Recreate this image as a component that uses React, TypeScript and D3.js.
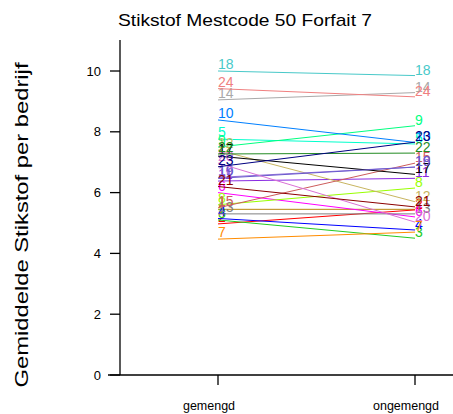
import React from "react";
import * as d3 from "d3";

const categories = ["gemengd", "ongemengd"];
const seriesIds = ["1","2","3","4","5","6","7","8","9","10","11","12","13","14","15","16","17","18","19","20","21","22","23","24"];
const gemengdValues = [5.45, 4.97, 5.1, 5.15, 7.76, 6.0, 4.47, 5.6, 7.5, 8.39, 6.38, 7.4, 5.3, 9.05, 5.5, 6.5, 7.2, 10.0, 6.47, 6.97, 6.2, 7.27, 6.85, 9.42];
const ongemengdValues = [5.45, 5.43, 4.5, 4.77, 7.6, 5.2, 4.7, 6.15, 8.2, 7.65, 6.47, 5.7, 5.3, 9.29, 6.97, 6.84, 6.6, 9.85, 6.84, 5.03, 5.53, 7.3, 7.66, 9.15];
const seriesColors = ["#b8860b","#ff0000","#22cc22","#0000ff","#00ffcc","#ff00ff","#ff8c00","#99ff00","#00ff80","#0080ff","#8a2be2","#c8b560","#808080","#a9a9a9","#cd5c5c","#9370db","#000000","#48c9c9","#6a5acd","#da70d6","#8b0000","#228b22","#000080","#f08080"];
const yTicks = [0, 2, 4, 6, 8, 10];
const title = "Stikstof Mestcode 50 Forfait 7";
const yTitle = "Gemiddelde Stikstof per bedrijf";

export default function App() {
  const W = 453, H = 414;
  const x = d3.scalePoint<string>().domain(categories).range([218, 415]);
  const y = d3.scaleLinear().domain([0, 11.02]).range([375, 40]);
  const font = "'Liberation Sans', Arial, sans-serif";
  return (
    <svg width={W} height={H} style={{ position: "absolute", left: 0, top: 0, background: "#fff" }} fontFamily={font}>
      <text x={245} y={26} textAnchor="middle" fontSize={17} textLength={254} lengthAdjust="spacingAndGlyphs" fill="#000">{title}</text>
      <text transform={`translate(28,${225}) rotate(-90)`} textAnchor="middle" fontSize={18} textLength={325} lengthAdjust="spacingAndGlyphs" fill="#000">{yTitle}</text>
      <line x1={120} x2={120} y1={40} y2={375} stroke="#000" strokeWidth={1.3} />
      <line x1={108} x2={453} y1={375} y2={375} stroke="#000" strokeWidth={1.3} />
      {yTicks.map(t => (
        <g key={t}>
          <line x1={110} x2={120} y1={y(t)} y2={y(t)} stroke="#000" strokeWidth={1.3} />
          <text x={101} y={y(t)} dy="0.35em" textAnchor="end" fontSize={13} fill="#000">{t}</text>
        </g>
      ))}
      {categories.map(c => (
        <g key={c}>
          <line x1={x(c)} x2={x(c)} y1={375} y2={385} stroke="#000" strokeWidth={1.3} />
          <text x={(x(c) as number) - 9} y={410} textAnchor="middle" fontSize={12.5} fill="#000">{c}</text>
        </g>
      ))}
      {seriesIds.map((id, i) => {
        const x0 = x(categories[0]) as number, x1 = x(categories[1]) as number;
        const y0 = y(gemengdValues[i]), y1 = y(ongemengdValues[i]);
        return (
          <g key={id}>
            <line x1={x0} y1={y0} x2={x1} y2={y1} stroke={seriesColors[i]} strokeWidth={1} />
            <text x={x0} y={y0 - 2} fontSize={14} fill={seriesColors[i]}>{id}</text>
            <text x={x1} y={y1 - 1} fontSize={14} fill={seriesColors[i]}>{id}</text>
          </g>
        );
      })}
    </svg>
  );
}
